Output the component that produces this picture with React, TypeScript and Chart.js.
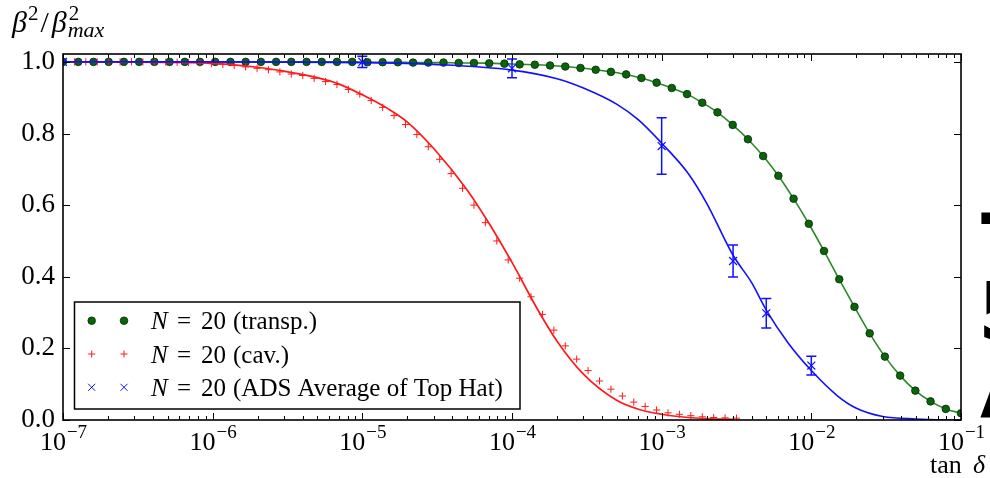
import React, { useEffect, useRef } from "react";
import { Chart, registerables } from "chart.js";

Chart.register(...registerables);

// ---------- data ----------
// Sampling grids of the original (log-spaced tan δ values)
const GREEN_GRID = { from: -7, to: -1, count: 60 };
const RED_GRID = { from: -7, to: -2.5, count: 60 };

const greenY = [
  1, 1, 1, 1, 1, 1, 1, 1, 1, 1,
  1, 1, 1, 1, 1, 1, 1, 1, 1, 1,
  0.999, 0.999, 0.999, 0.998, 0.998, 0.998, 0.997, 0.997, 0.996, 0.995,
  0.993, 0.992, 0.99, 0.987, 0.983, 0.978, 0.972, 0.965, 0.955, 0.942,
  0.927, 0.91, 0.886, 0.859, 0.824, 0.784, 0.737, 0.682, 0.618, 0.548,
  0.472, 0.393, 0.316, 0.242, 0.177, 0.124, 0.082, 0.052, 0.031, 0.019,
];

const redY = [
  1, 1, 1, 1, 1, 1, 1, 1, 0.999, 0.999,
  0.999, 0.998, 0.997, 0.995, 0.993, 0.99, 0.986, 0.982, 0.978, 0.972,
  0.966, 0.962, 0.954, 0.945, 0.937, 0.923, 0.91, 0.892, 0.873, 0.85,
  0.825, 0.797, 0.763, 0.728, 0.688, 0.647, 0.6, 0.551, 0.5, 0.447,
  0.396, 0.344, 0.295, 0.251, 0.207, 0.17, 0.138, 0.109, 0.086, 0.067,
  0.05, 0.038, 0.028, 0.02, 0.016, 0.012, 0.009, 0.007, 0.006, 0.005,
];

const redLineX = [1e-7, 1e-6, 2e-6, 3e-6, 5e-6, 7e-6, 1e-5, 1.5e-5, 2e-5, 3e-5, 5e-5, 7e-5, 1e-4, 1.5e-4, 2e-4, 3e-4, 5e-4, 7e-4, 1e-3, 1.5e-3, 2e-3, 3e-3];
const redLineY = [1.0, 0.996, 0.985, 0.974, 0.956, 0.938, 0.908, 0.868, 0.832, 0.758, 0.643, 0.55, 0.44, 0.305, 0.22, 0.128, 0.055, 0.03, 0.016, 0.007, 0.004, 0.002];

const blueLineX = [1e-7, 1e-6, 1e-5, 3e-5, 1e-4, 2e-4, 3e-4, 5e-4, 7e-4, 1e-3, 1.5e-3, 2e-3, 3e-3, 4e-3, 5e-3, 7e-3, 1e-2, 1.5e-2, 2e-2, 3e-2, 5e-2, 1e-1];
const blueLineY = [1.0, 1.0, 0.998, 0.993, 0.977, 0.953, 0.927, 0.882, 0.838, 0.773, 0.689, 0.605, 0.46, 0.383, 0.307, 0.215, 0.138, 0.067, 0.033, 0.01, 0.003, 0.0];

const blueX = [1e-7, 1e-5, 1e-4, 1e-3, 3e-3, 5e-3, 1e-2];
const blueY = [1.0, 1.0, 0.982, 0.765, 0.444, 0.298, 0.152];
const blueErr = [0.0, 0.016, 0.026, 0.079, 0.045, 0.041, 0.026];

const xTickExponents = [-7, -6, -5, -4, -3, -2, -1];
const yTickValues = [0, 0.2, 0.4, 0.6, 0.8, 1.0];

const legendN = "20";
const legendLabels = ["(transp.)", "(cav.)", "(ADS Average of Top Hat)"];
const sideGlyphs = ["T", "5", "A"];

// ---------- style ----------
const SERIF = '"Liberation Serif", "Times New Roman", serif';
const GREEN_LINE = "#2a8a2a";
const GREEN_DOT = "#0a640a";
const GREEN_EDGE = "#022c02";
const RED = "#ff1a1a";
const BLUE = "#1010ff";

function logGrid(from: number, to: number, n: number) {
  const out: number[] = [];
  for (let i = 0; i < n; i++) out.push(Math.pow(10, from + ((to - from) * i) / (n - 1)));
  return out;
}

const greenX = logGrid(GREEN_GRID.from, GREEN_GRID.to, GREEN_GRID.count);
const redX = logGrid(RED_GRID.from, RED_GRID.to, RED_GRID.count);

const zip = (xs: number[], ys: number[]) => xs.map((x, i) => ({ x, y: ys[i] }));

function drawCircle(ctx: CanvasRenderingContext2D, x: number, y: number) {
  ctx.beginPath();
  ctx.arc(x, y, 3.8, 0, Math.PI * 2);
  ctx.fillStyle = GREEN_DOT;
  ctx.fill();
  ctx.lineWidth = 0.8;
  ctx.strokeStyle = GREEN_EDGE;
  ctx.stroke();
}
function drawPlus(ctx: CanvasRenderingContext2D, x: number, y: number) {
  ctx.beginPath();
  ctx.moveTo(x - 3.5, y);
  ctx.lineTo(x + 3.5, y);
  ctx.moveTo(x, y - 3.5);
  ctx.lineTo(x, y + 3.5);
  ctx.lineWidth = 1;
  ctx.strokeStyle = RED;
  ctx.stroke();
}
function drawX(ctx: CanvasRenderingContext2D, x: number, y: number) {
  const r = 3.5;
  ctx.beginPath();
  ctx.moveTo(x - r, y - r);
  ctx.lineTo(x + r, y + r);
  ctx.moveTo(x - r, y + r);
  ctx.lineTo(x + r, y - r);
  ctx.lineWidth = 1;
  ctx.strokeStyle = BLUE;
  ctx.stroke();
}

const decor = {
  id: "decor",
  afterDatasetsDraw(chart: any) {
    const { ctx, chartArea: a, scales } = chart;
    const xs = scales.x, ys = scales.y;
    ctx.save();
    ctx.beginPath();
    ctx.rect(a.left, a.top, a.right - a.left, a.bottom - a.top);
    ctx.clip();
    ctx.strokeStyle = BLUE;
    ctx.lineWidth = 1.5;
    blueX.forEach((bx, i) => {
      const e = blueErr[i];
      if (!e) return;
      const px = xs.getPixelForValue(bx);
      const y1 = ys.getPixelForValue(blueY[i] + e);
      const y2 = ys.getPixelForValue(blueY[i] - e);
      ctx.beginPath();
      ctx.moveTo(px, y1);
      ctx.lineTo(px, y2);
      ctx.moveTo(px - 5, y1);
      ctx.lineTo(px + 5, y1);
      ctx.moveTo(px - 5, y2);
      ctx.lineTo(px + 5, y2);
      ctx.stroke();
    });
    ctx.restore();
  },
  afterDraw(chart: any) {
    const { ctx, chartArea: a, scales } = chart;
    const xs = scales.x, ys = scales.y;
    ctx.save();

    // frame
    ctx.strokeStyle = "#000";
    ctx.lineWidth = 1.6;
    ctx.strokeRect(a.left, a.top, a.right - a.left, a.bottom - a.top);

    // inward ticks
    ctx.lineWidth = 1;
    ctx.beginPath();
    xTickExponents.forEach((e) => {
      const px = Math.round(xs.getPixelForValue(Math.pow(10, e))) + 0.5;
      ctx.moveTo(px, a.bottom);
      ctx.lineTo(px, a.bottom - 7);
      ctx.moveTo(px, a.top);
      ctx.lineTo(px, a.top + 7);
    });
    for (let e = xTickExponents[0]; e < xTickExponents[xTickExponents.length - 1]; e++) {
      for (let m = 2; m <= 9; m++) {
        const px = Math.round(xs.getPixelForValue(m * Math.pow(10, e))) + 0.5;
        ctx.moveTo(px, a.bottom);
        ctx.lineTo(px, a.bottom - 4);
        ctx.moveTo(px, a.top);
        ctx.lineTo(px, a.top + 4);
      }
    }
    yTickValues.forEach((v) => {
      const py = Math.round(ys.getPixelForValue(v)) + 0.5;
      ctx.moveTo(a.left, py);
      ctx.lineTo(a.left + 7, py);
      ctx.moveTo(a.right, py);
      ctx.lineTo(a.right - 7, py);
    });
    ctx.stroke();

    // x tick labels 10^n
    ctx.fillStyle = "#000";
    ctx.textBaseline = "alphabetic";
    ctx.textAlign = "left";
    xTickExponents.forEach((e) => {
      const px = xs.getPixelForValue(Math.pow(10, e));
      const base = "10";
      const sup = "\u2212" + Math.abs(e);
      ctx.font = `26px ${SERIF}`;
      const wb = ctx.measureText(base).width;
      ctx.font = `19px ${SERIF}`;
      const wsp = ctx.measureText(sup).width;
      const x0 = px - (wb + wsp) / 2;
      ctx.font = `26px ${SERIF}`;
      ctx.fillText(base, x0, a.bottom + 30);
      ctx.font = `19px ${SERIF}`;
      ctx.fillText(sup, x0 + wb + 1, a.bottom + 18);
    });

    // x axis title
    ctx.font = `26px ${SERIF}`;
    ctx.fillText("tan", 930, 473);
    ctx.font = `italic 26px ${SERIF}`;
    ctx.fillText("δ", 973, 473);

    // y axis title β²/β²max
    let cx = 12;
    const base = 32;
    ctx.font = `italic 30px ${SERIF}`;
    ctx.fillText("β", cx, base);
    cx += ctx.measureText("β").width + 1;
    ctx.font = `21px ${SERIF}`;
    ctx.fillText("2", cx, base - 12);
    cx += ctx.measureText("2").width + 2;
    ctx.font = `30px ${SERIF}`;
    ctx.fillText("/", cx, base);
    cx += ctx.measureText("/").width + 3;
    ctx.font = `italic 30px ${SERIF}`;
    ctx.fillText("β", cx, base);
    cx += ctx.measureText("β").width + 1;
    ctx.font = `21px ${SERIF}`;
    ctx.fillText("2", cx + 1, base - 12);
    ctx.font = `italic 22px ${SERIF}`;
    ctx.fillText("max", cx, base + 5);

    // legend
    const lx = 74.5, ly = 302, lw = 445.5, lh = 107;
    ctx.fillStyle = "#fff";
    ctx.fillRect(lx, ly, lw, lh);
    ctx.strokeStyle = "#000";
    ctx.lineWidth = 1.5;
    ctx.strokeRect(lx, ly, lw, lh);
    const rows = [320.7, 354, 387.3];
    const markers = [drawCircle, drawPlus, drawX];
    legendLabels.forEach((lab, i) => {
      const ry = rows[i];
      markers[i](ctx, 91.7, ry);
      markers[i](ctx, 124, ry);
      ctx.fillStyle = "#000";
      const by = ry + 8.5;
      ctx.font = `italic 25px ${SERIF}`;
      ctx.fillText("N", 151, by);
      ctx.font = `25px ${SERIF}`;
      ctx.fillText("=", 177, by);
      ctx.fillText(legendN, 201, by);
      ctx.fillText(lab, 233, by);
    });

    // partial glyphs at the right border (from neighbouring page text)
    ctx.fillStyle = "#000";
    ctx.font = `bold 80px "DejaVu Sans"`;
    ctx.fillText(sideGlyphs[0], 981, 271);
    ctx.fillText(sideGlyphs[1], 978, 340);
    ctx.fillText(sideGlyphs[2], 980, 418);

    ctx.restore();
  },
};

export default function App() {
  const ref = useRef<HTMLCanvasElement | null>(null);

  useEffect(() => {
    const canvas = ref.current;
    if (!canvas) return;
    const chart = new Chart(canvas, {
      type: "scatter",
      data: {
        datasets: [
          {
            label: "N = 20 (ADS Average of Top Hat)",
            data: zip(blueX, blueY),
            showLine: false,
            pointStyle: "crossRot",
            pointRadius: 5.6,
            borderColor: BLUE,
            backgroundColor: BLUE,
            borderWidth: 1.2,
            clip: 0,
            order: 0,
          },
          {
            label: "ADS fit",
            data: zip(blueLineX, blueLineY),
            showLine: true,
            pointRadius: 0,
            borderColor: BLUE,
            borderWidth: 1.6,
            cubicInterpolationMode: "monotone",
            clip: 0,
            order: 1,
          },
          {
            label: "N = 20 (cav.)",
            data: zip(redX, redY),
            showLine: false,
            pointStyle: "cross",
            pointRadius: 3.6,
            borderColor: RED,
            backgroundColor: RED,
            borderWidth: 1,
            clip: 0,
            order: 2,
          },
          {
            label: "cav. fit",
            data: zip(redLineX, redLineY),
            showLine: true,
            pointRadius: 0,
            borderColor: RED,
            borderWidth: 1.7,
            cubicInterpolationMode: "monotone",
            clip: 0,
            order: 3,
          },
          {
            label: "N = 20 (transp.)",
            data: zip(greenX, greenY),
            showLine: true,
            borderColor: GREEN_LINE,
            borderWidth: 1.6,
            cubicInterpolationMode: "monotone",
            pointStyle: "circle",
            pointRadius: 3.8,
            pointBackgroundColor: GREEN_DOT,
            pointBorderColor: GREEN_EDGE,
            pointBorderWidth: 0.8,
            clip: 0,
            order: 4,
          },
        ] as any,
      },
      options: {
        animation: false,
        responsive: false,
        maintainAspectRatio: false,
        events: [],
        layout: { padding: { left: 0, right: 29, top: 54, bottom: 0 } },
        plugins: {
          legend: { display: false },
          tooltip: { enabled: false },
        },
        scales: {
          x: {
            type: "logarithmic",
            min: 1e-7,
            max: 1e-1,
            grid: { display: false, drawTicks: false },
            border: { display: false },
            ticks: { display: false },
            afterBuildTicks: (s: any) => {
              s.ticks = xTickExponents.map((e) => ({ value: Math.pow(10, e) }));
            },
            afterFit: (s: any) => {
              s.height = 58;
            },
          },
          y: {
            type: "linear",
            min: 0,
            max: 1.022,
            grid: { display: false, drawTicks: false },
            border: { display: false },
            ticks: {
              color: "#000",
              padding: 8,
              font: { family: SERIF, size: 27 },
              callback: (v: any) => Number(v).toFixed(1),
            },
            afterBuildTicks: (s: any) => {
              s.ticks = yTickValues.map((v) => ({ value: v }));
            },
            afterFit: (s: any) => {
              s.width = 63;
            },
          },
        } as any,
      },
      plugins: [decor as any],
    });
    return () => chart.destroy();
  }, []);

  return (
    <div style={{ position: "fixed", left: 0, top: 0, width: 990, height: 478, background: "#fff" }}>
      <canvas ref={ref} width={990} height={478} style={{ display: "block", width: 990, height: 478 }} />
    </div>
  );
}
